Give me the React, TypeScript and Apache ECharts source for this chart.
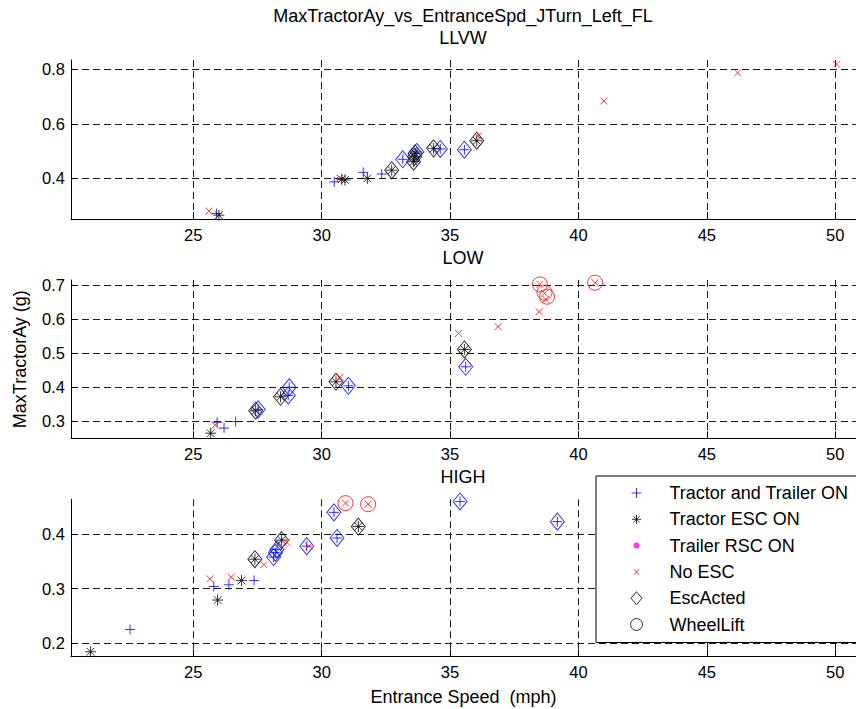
import React, { useEffect, useRef } from "react";
import * as echarts from "echarts";

// ---------- data ----------
const SUBPLOT_TITLES = ["LLVW", "LOW", "HIGH"];
const MAIN_TITLE = "MaxTractorAy_vs_EntranceSpd_JTurn_Left_FL";
const X_NAME = "Entrance Speed  (mph)";
const Y_NAME = "MaxTractorAy (g)";
const LEGEND_NAMES = ["Tractor and Trailer ON", "Tractor ESC ON", "Trailer RSC ON", "No ESC", "EscActed", "WheelLift"];

// LLVW
const llvwTractorTrailerOn = [[25.91, 0.271], [30.49, 0.387], [31.62, 0.422], [32.34, 0.416], [33.16, 0.47], [33.71, 0.497], [34.62, 0.508], [35.56, 0.505]];
const llvwTractorEscOn = [[26.0, 0.265], [30.78, 0.397], [30.91, 0.394], [31.78, 0.4], [32.73, 0.43], [33.64, 0.492], [33.58, 0.461], [33.62, 0.479], [34.36, 0.51], [36.04, 0.538]];
const llvwTrailerRscOn: number[][] = [];
const llvwNoEsc = [[25.61, 0.28], [30.71, 0.4], [36.1, 0.555], [40.99, 0.684], [46.2, 0.787], [50.05, 0.819]];
const llvwEscActedTT = [[33.16, 0.47], [33.71, 0.497], [34.62, 0.508], [35.56, 0.505]];
const llvwEscActedEsc = [[32.73, 0.43], [33.64, 0.492], [33.58, 0.461], [33.62, 0.479], [34.36, 0.51], [36.04, 0.538]];
const llvwWheelLift: number[][] = [];

// LOW
const lowTractorTrailerOn = [[25.93, 0.297], [26.2, 0.28], [26.65, 0.299], [27.53, 0.335], [28.74, 0.4], [28.7, 0.376], [31.04, 0.404], [35.61, 0.46]];
const lowTractorEscOn = [[25.68, 0.265], [27.43, 0.331], [28.4, 0.372], [30.56, 0.416], [35.56, 0.511]];
const lowTrailerRscOn: number[][] = [];
const lowNoEsc = [[25.86, 0.289], [30.71, 0.429], [35.33, 0.558], [36.87, 0.578], [38.47, 0.622], [38.5, 0.702], [38.68, 0.676], [38.73, 0.658], [40.65, 0.707]];
const lowEscActedTT = [[27.53, 0.335], [28.74, 0.4], [28.7, 0.376], [31.04, 0.404], [35.61, 0.46]];
const lowEscActedEsc = [[27.43, 0.331], [28.4, 0.372], [30.56, 0.416], [35.56, 0.511]];
const lowWheelLift = [[38.5, 0.702], [38.68, 0.678], [38.78, 0.666], [40.65, 0.707]];

// HIGH
const highTractorTrailerOn = [[22.54, 0.225], [25.8, 0.304], [26.39, 0.307], [27.37, 0.315], [28.13, 0.358], [28.2, 0.366], [28.26, 0.372], [29.42, 0.378], [30.48, 0.44], [30.6, 0.393], [35.39, 0.46], [39.18, 0.423]];
const highTractorEscOn = [[21.0, 0.184], [25.95, 0.279], [26.88, 0.315], [27.4, 0.354], [28.44, 0.389], [31.43, 0.414]];
const highTrailerRscOn: number[][] = [];
const highNoEsc = [[25.65, 0.318], [26.48, 0.321], [27.75, 0.344], [28.64, 0.385], [29.5, 0.378], [30.93, 0.457], [31.81, 0.455]];
const highEscActedTT = [[28.13, 0.358], [28.2, 0.366], [28.26, 0.372], [29.42, 0.378], [30.48, 0.44], [30.6, 0.393], [35.39, 0.46], [39.18, 0.423]];
const highEscActedEsc = [[27.4, 0.354], [28.44, 0.389], [31.43, 0.414]];
const highWheelLift = [[30.93, 0.457], [31.81, 0.455]];

// axis ranges
const X_MIN = 20.24;
const X_MAX = 50.81;
const X_INTERVAL = 5;
const Y_RANGES = [
  { min: 0.251, max: 0.834, interval: 0.2 },
  { min: 0.25, max: 0.715, interval: 0.1 },
  { min: 0.175, max: 0.464, interval: 0.1 },
];

const SUBPLOTS = [
  { tt: llvwTractorTrailerOn, esc: llvwTractorEscOn, rsc: llvwTrailerRscOn, no: llvwNoEsc, actTT: llvwEscActedTT, actEsc: llvwEscActedEsc, lift: llvwWheelLift },
  { tt: lowTractorTrailerOn, esc: lowTractorEscOn, rsc: lowTrailerRscOn, no: lowNoEsc, actTT: lowEscActedTT, actEsc: lowEscActedEsc, lift: lowWheelLift },
  { tt: highTractorTrailerOn, esc: highTractorEscOn, rsc: highTrailerRscOn, no: highNoEsc, actTT: highEscActedTT, actEsc: highEscActedEsc, lift: highWheelLift },
];

// ---------- styling ----------
const FONT = "'Liberation Sans', Arial, Helvetica, sans-serif";
const BLUE = "#0000ff";
const BLACK = "#000000";
const RED = "#ff0000";
const MAGENTA = "#ff00ff";
const CLEAR = "rgba(0,0,0,0)";

const PLUS = "path://M0 5L10 5M5 0L5 10";
const STAR = "path://M0 5L10 5M5 0L5 10M1.5 1.5L8.5 8.5M1.5 8.5L8.5 1.5";
const CROSS = "path://M0 0L10 10M0 10L10 0";

const L_PLUS = "path://M0 0M14 14M2 7L12 7M7 2L7 12";
const L_STAR = "path://M0 0M14 14M2.5 7L11.5 7M7 2.5L7 11.5M3.8 3.8L10.2 10.2M3.8 10.2L10.2 3.8";
const L_DOT = "path://M0 0M14 14M4 7A3 3 0 1 0 10 7A3 3 0 1 0 4 7Z";
const L_CROSS = "path://M0 0M14 14M4.2 4.2L9.8 9.8M4.2 9.8L9.8 4.2";
const L_DIAMOND = "path://M0 0M14 14M7 0.5L12.5 7L7 13.5L1.5 7Z";
const L_CIRCLE = "path://M0 0M14 14M1 7A6 6 0 1 0 13 7A6 6 0 1 0 1 7Z";

const GRIDS = [
  { top: 60, height: 159 },
  { top: 280, height: 158.3 },
  { top: 499.3, height: 157.4 },
];

const TEXT_SIZE = 18;
const TICK_SIZE = 16.5;

function buildOption() {
  const grid = GRIDS.map((g) => ({ left: 71, right: 0, top: g.top, height: g.height, containLabel: false }));
  const splitLine = { show: true, showMinLine: false, showMaxLine: false, lineStyle: { color: "#1a1a1a", width: 1, type: [7, 4] } };
  const axisLine = { show: true, onZero: false, lineStyle: { color: BLACK, width: 1 } };
  const axisTick = { show: true, inside: true, length: 7, lineStyle: { color: BLACK, width: 1 } };

  const xAxis = GRIDS.map((_, i) => ({
    type: "value",
    gridIndex: i,
    min: X_MIN,
    max: X_MAX,
    splitNumber: 5,
    minInterval: X_INTERVAL,
    maxInterval: X_INTERVAL,
    axisLine,
    axisTick,
    splitLine,
    axisLabel: { show: true, margin: 7, fontSize: TICK_SIZE, color: BLACK, fontFamily: FONT, showMinLabel: false, showMaxLabel: false },
    ...(i === 2
      ? { name: X_NAME, nameLocation: "middle", nameGap: 31, nameTextStyle: { fontSize: TEXT_SIZE, color: BLACK, fontFamily: FONT } }
      : {}),
  }));

  const yAxis = Y_RANGES.map((r, i) => ({
    type: "value",
    gridIndex: i,
    min: r.min,
    max: r.max,
    splitNumber: 4,
    minInterval: r.interval,
    maxInterval: r.interval,
    axisLine,
    axisTick,
    splitLine,
    axisLabel: { show: true, margin: 6, fontSize: TICK_SIZE, color: BLACK, fontFamily: FONT, showMinLabel: false, showMaxLabel: false },
    ...(i === 1
      ? { name: Y_NAME, nameLocation: "middle", nameGap: 42, nameTextStyle: { fontSize: TEXT_SIZE, color: BLACK, fontFamily: FONT } }
      : {}),
  }));

  const series: any[] = [];
  SUBPLOTS.forEach((d, i) => {
    const base = { type: "scatter", xAxisIndex: i, yAxisIndex: i, silent: true, emphasis: { disabled: true } };
    series.push({ ...base, name: "EscActed", data: d.actEsc, symbol: "diamond", symbolSize: [14, 17], itemStyle: { color: CLEAR, borderColor: BLACK, borderWidth: 1 } });
    series.push({ ...base, name: "EscActed", data: d.actTT, symbol: "diamond", symbolSize: [14, 17], itemStyle: { color: CLEAR, borderColor: BLUE, borderWidth: 1 } });
    series.push({ ...base, name: "WheelLift", data: d.lift, symbol: "circle", symbolSize: 15, itemStyle: { color: CLEAR, borderColor: RED, borderWidth: 1 } });
    series.push({ ...base, name: "Tractor and Trailer ON", data: d.tt, symbol: PLUS, symbolSize: 10, itemStyle: { color: CLEAR, borderColor: BLUE, borderWidth: 1 } });
    series.push({ ...base, name: "Tractor ESC ON", data: d.esc, symbol: STAR, symbolSize: 11, itemStyle: { color: CLEAR, borderColor: BLACK, borderWidth: 1 } });
    series.push({ ...base, name: "Trailer RSC ON", data: d.rsc, symbol: "circle", symbolSize: 6, itemStyle: { color: MAGENTA, borderWidth: 0 } });
    series.push({ ...base, name: "No ESC", data: d.no, symbol: CROSS, symbolSize: 7, itemStyle: { color: CLEAR, borderColor: RED, borderWidth: 1 } });
  });

  const legendIcons = [
    { icon: L_PLUS, itemStyle: { color: CLEAR, borderColor: BLUE, borderWidth: 1 } },
    { icon: L_STAR, itemStyle: { color: CLEAR, borderColor: BLACK, borderWidth: 1 } },
    { icon: L_DOT, itemStyle: { color: MAGENTA, borderColor: MAGENTA, borderWidth: 0 } },
    { icon: L_CROSS, itemStyle: { color: CLEAR, borderColor: RED, borderWidth: 1 } },
    { icon: L_DIAMOND, itemStyle: { color: CLEAR, borderColor: BLACK, borderWidth: 1 } },
    { icon: L_CIRCLE, itemStyle: { color: CLEAR, borderColor: BLACK, borderWidth: 1 } },
  ];

  const titleStyle = { fontSize: TEXT_SIZE, fontWeight: "normal", color: BLACK, fontFamily: FONT };
  const title = [
    { text: MAIN_TITLE, left: 463, top: 7, textAlign: "center", padding: 0, textStyle: titleStyle },
    { text: SUBPLOT_TITLES[0], left: 463, top: 29, textAlign: "center", padding: 0, textStyle: titleStyle },
    { text: SUBPLOT_TITLES[1], left: 463, top: 249, textAlign: "center", padding: 0, textStyle: titleStyle },
    { text: SUBPLOT_TITLES[2], left: 463, top: 468, textAlign: "center", padding: 0, textStyle: titleStyle },
  ];

  return {
    animation: false,
    backgroundColor: "#ffffff",
    textStyle: { fontFamily: FONT, color: BLACK },
    title,
    grid,
    xAxis,
    yAxis,
    legend: {
      orient: "vertical",
      left: 596,
      top: 476,
      padding: [8, 40, 9, 33],
      itemWidth: 14,
      itemHeight: 14,
      itemGap: 8.3,
      symbolKeepAspect: true,
      selectedMode: false,
      backgroundColor: "#ffffff",
      borderColor: BLACK,
      borderWidth: 1,
      borderRadius: 0,
      textStyle: { fontSize: TEXT_SIZE, lineHeight: 17, color: BLACK, fontFamily: FONT, padding: [0, 0, 0, 21] },
      data: LEGEND_NAMES.map((name, k) => ({ name, ...legendIcons[k] })),
    },
    series,
  };
}

export default function App() {
  const ref = useRef<HTMLDivElement>(null);
  useEffect(() => {
    if (!ref.current) return;
    const chart = echarts.init(ref.current, null, { renderer: "svg" });
    chart.setOption(buildOption() as any);
    return () => chart.dispose();
  }, []);
  return (
    <div
      ref={ref}
      style={{ position: "fixed", left: 0, top: 0, width: 856, height: 709, background: "#fff" }}
    />
  );
}
